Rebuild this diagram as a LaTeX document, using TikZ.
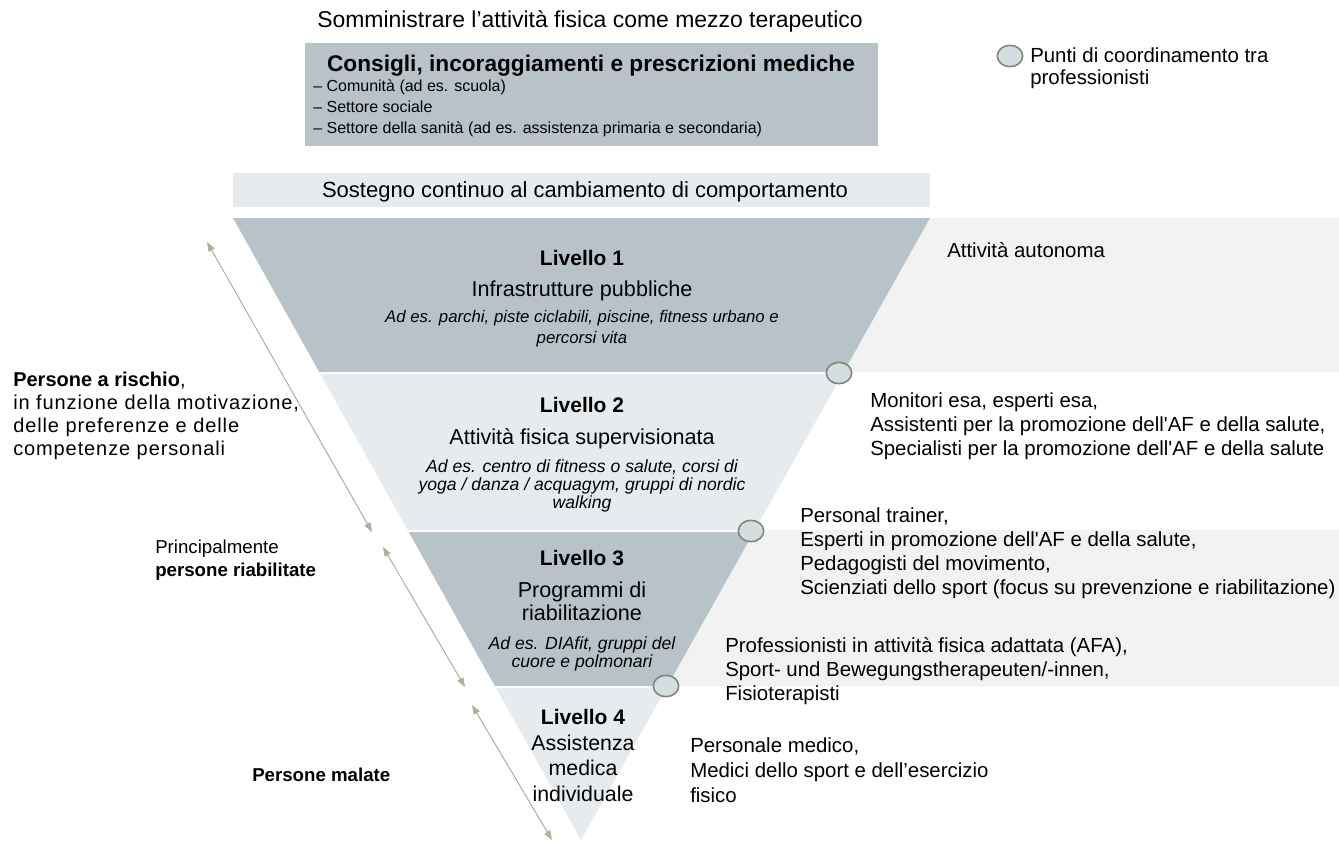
\documentclass[tikz,border=0pt]{standalone}
\usepackage{fontspec}
\setmainfont{Liberation Sans}
\usetikzlibrary{arrows.meta,shapes.geometric}
\definecolor{bandDark}{RGB}{184,195,201}
\definecolor{bandLight}{RGB}{231,235,238}
\definecolor{sideGray}{RGB}{242,242,242}
\definecolor{ringFill}{RGB}{214,221,224}
\definecolor{ringLine}{RGB}{122,138,118}
\definecolor{sage}{RGB}{163,182,152}
\begin{document}
\begin{tikzpicture}[x=0.75pt,y=-0.75pt,inner sep=0pt,
	ring/.style={draw=ringLine,fill=ringFill,line width=1.2pt,ellipse,minimum width=19pt,minimum height=16pt},
	arr/.style={sage,line width=0.75pt,{Triangle[length=7pt,width=5pt]}-{Triangle[length=7pt,width=5pt]}},
	lvlhead/.style={anchor=base,font=\fontsize{15.75}{18}\selectfont\bfseries},
	lvlsub/.style={anchor=base,align=center,font=\fontsize{16.2}{17.25}\selectfont},
	lvlex/.style={anchor=base,align=center,font=\fontsize{13.2}{13.5}\selectfont\itshape},
	rtext/.style={anchor=base west,align=left,font=\fontsize{15.3}{18}\selectfont},
	ltext/.style={anchor=base west,align=left,font=\fontsize{14}{17.25}\selectfont}]
	\useasboundingbox (0,0) rectangle (1339,843);

	% side bands
	\fill[sideGray] (930,218) -- (1339,218) -- (1339,372) -- (843.6,372) -- cycle;
	\fill[sideGray] (754.9,530) -- (1339,530) -- (1339,686) -- (667.4,686) -- cycle;

	% funnel
	\fill[bandDark] (233,218) -- (930,218) -- (843.6,372) -- (319.2,372) -- cycle;
	\fill[bandLight] (320.3,374) -- (842.5,374) -- (754.9,530) -- (407.6,530) -- cycle;
	\fill[bandDark] (408.7,532) -- (753.8,532) -- (667.4,686) -- (494.8,686) -- cycle;
	\fill[bandLight] (496,688) -- (666.3,688) -- (581,840) -- cycle;

	% top boxes
	\fill[bandDark] (305,43) rectangle (878,146);
	\fill[bandLight] (233,173) rectangle (930,207);

	% multi-line nodes sit on the baseline of their last line
	\node[anchor=base,font=\fontsize{17.2}{18}\selectfont] (title) at (590,27) {Somministrare l’attività fisica come mezzo terapeutico};
	\node[anchor=base,font=\fontsize{17}{18}\selectfont\bfseries] (advice) at (591,71) {Consigli, incoraggiamenti e prescrizioni mediche};
	\node[anchor=base west,align=left,font=\fontsize{12}{15.4}\selectfont] (sectors) at (313,133) {– Comunità (ad es. scuola)\\– Settore sociale\\– Settore della sanità (ad es. assistenza primaria e secondaria)};
	\node[anchor=base,font=\fontsize{16.5}{18}\selectfont] (support) at (585,197) {Sostegno continuo al cambiamento di comportamento};

	% levels
	\node[lvlhead] (lev1) at (582,265) {Livello 1};
	\node[lvlsub] (lev1sub) at (582,296) {Infrastrutture pubbliche};
	\node[lvlex,font=\fontsize{12.6}{15.75}\selectfont\itshape] (lev1ex) at (582,343) {Ad es. parchi, piste ciclabili, piscine, fitness urbano e\\percorsi vita};

	\node[lvlhead] (lev2) at (582,412) {Livello 2};
	\node[lvlsub] (lev2sub) at (582,444) {Attività fisica supervisionata};
	\node[lvlex] (lev2ex) at (582,508) {Ad es. centro di fitness o salute, corsi di\\yoga / danza / acquagym, gruppi di nordic\\walking};

	\node[lvlhead] (lev3) at (582,565) {Livello 3};
	\node[lvlsub] (lev3sub) at (582,620) {Programmi di\\riabilitazione};
	\node[lvlex] (lev3ex) at (582,667) {Ad es. DIAfit, gruppi del\\cuore e polmonari};

	\node[lvlhead] (lev4) at (583,724) {Livello 4};
	\node[lvlsub,font=\fontsize{16}{19}\selectfont] (lev4sub) at (583,801) {Assistenza\\medica\\individuale};

	% coordination points
	\node[ring] (c1) at (839,373) {};
	\node[ring] (c2) at (751,531) {};
	\node[ring] (c3) at (666,686) {};
	\node[ring] (key) at (1010,56) {};
	\node[rtext,font=\fontsize{15.3}{16.5}\selectfont] (keytext) at (1030,84) {Punti di coordinamento tra\\professionisti};

	% professionals
	\node[rtext] (self) at (947,257) {Attività autonoma};
	\node[rtext] (prof2) at (870,455) {Monitori esa, esperti esa,\\Assistenti per la promozione dell\textquotesingle AF e della salute,\\Specialisti per la promozione dell\textquotesingle AF e della salute};
	\node[rtext] (prof3) at (800,594) {Personal trainer,\\Esperti in promozione dell\textquotesingle AF e della salute,\\Pedagogisti del movimento,\\Scienziati dello sport (focus su prevenzione e riabilitazione)};
	\node[rtext] (prof4) at (725,700) {Professionisti in attività fisica adattata (AFA),\\Sport- und Bewegungstherapeuten/-innen,\\Fisioterapisti};
	\node[rtext,font=\fontsize{15.3}{18.75}\selectfont] (prof5) at (690,802) {Personale medico,\\Medici dello sport e dell’esercizio\\fisico};

	% target groups
	\node[ltext,font=\fontsize{15}{17.25}\selectfont\addfontfeatures{LetterSpace=4.5}] (risk) at (13,455) {{\bfseries\addfontfeatures{LetterSpace=0}Persone a rischio},\\in funzione della motivazione,\\delle preferenze e delle\\competenze personali};
	\node[ltext] (rehab) at (155,576) {Principalmente\\\textbf{persone riabilitate}};
	\node[ltext] (sick) at (252,781) {\textbf{Persone malate}};

	\coordinate (a1s) at (207,242);
	\coordinate (a1e) at (372,532);
	\coordinate (a2s) at (383,547);
	\coordinate (a2e) at (465,687);
	\coordinate (a3s) at (472,705);
	\coordinate (a3e) at (552,840);
	\draw[arr] (a1s) -- (a1e);
	\draw[arr] (a2s) -- (a2e);
	\draw[arr] (a3s) -- (a3e);
\end{tikzpicture}
\end{document}
